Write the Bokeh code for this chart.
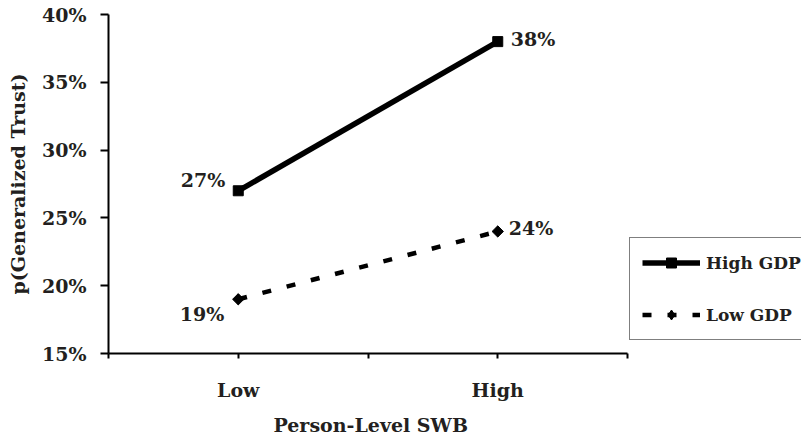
import math
from bokeh.plotting import figure
from bokeh.models import Range1d, FixedTicker, PrintfTickFormatter, Legend, LegendItem, Title
from bokeh.core.properties import value
from bokeh.embed import file_html
from bokeh.resources import INLINE

categories = ["Low", "High"]
series_names = ["High GDP", "Low GDP"]
high_gdp = [27, 38]
low_gdp = [19, 24]
y_ticks = [15, 20, 25, 30, 35, 40]
x_title = "Person-Level SWB"
y_title = "p(Generalized Trust)"

FONT = "DejaVu Serif"
TXT = "#231f20"
FS = "19px"

xs = [i + 0.5 for i in range(len(categories))]
n = len(categories)

p = figure(frame_width=693, frame_height=339, min_border_left=108, min_border_right=0,
           min_border_top=14, min_border_bottom=92, output_backend="svg",
           toolbar_location=None, x_range=Range1d(0, 693 / 259.5), y_range=Range1d(15, 40))
p.outline_line_color = None
p.xgrid.visible = False
p.ygrid.visible = False
p.background_fill_color = "white"

# axes
p.xaxis.bounds = (0, n)
p.xaxis.ticker = FixedTicker(ticks=xs, minor_ticks=list(range(n + 1)))
p.xaxis.major_label_overrides = {x: c for x, c in zip(xs, categories)}
p.yaxis.ticker = FixedTicker(ticks=y_ticks, minor_ticks=[])
p.yaxis.formatter = PrintfTickFormatter(format="%d%%")
for ax in (p.xaxis[0], p.yaxis[0]):
    ax.axis_line_width = 2
    ax.axis_line_color = "black"
    ax.major_tick_line_width = 2
    ax.major_tick_line_color = "black"
    ax.minor_tick_line_width = 2
    ax.minor_tick_line_color = "black"
    ax.major_tick_in = 0
    ax.minor_tick_in = 0
    ax.major_label_text_font = FONT
    ax.major_label_text_font_style = "bold"
    ax.major_label_text_font_size = FS
    ax.major_label_text_color = TXT
    ax.axis_label_text_font = FONT
    ax.axis_label_text_font_style = "bold"
    ax.axis_label_text_font_size = FS
    ax.axis_label_text_color = TXT
p.xaxis.major_tick_out = 5
p.xaxis.minor_tick_out = 5
p.yaxis.major_tick_out = 8
p.yaxis.major_label_standoff = 14
p.xaxis.major_label_standoff = 20
p.yaxis.axis_label = y_title
p.yaxis.axis_label_standoff = 10

# x-axis title centred under the category span (axis spans 108..627 px)
p.add_layout(Title(text=x_title, align="left", offset=165, standoff=17,
                   text_font=FONT, text_font_style="bold", text_font_size=FS,
                   text_color=TXT), "below")

# series
l1 = p.line(xs, high_gdp, line_color="black", line_width=5.5)
m1 = p.scatter(xs, high_gdp, marker="square", size=10, fill_color="black", line_color="black")
l2 = p.line(xs, low_gdp, line_color="black", line_width=4.5, line_dash="9 16")
p.scatter(xs, low_gdp, marker="square", size=8, angle=math.pi / 4,
          fill_color="black", line_color="black")
m2 = p.scatter(xs, low_gdp, marker="diamond", size=10, fill_color="black", line_color="black")

# data labels
def add_labels(vals, aligns, xo, yo):
    p.text(xs, vals, text=[f"{v}%" for v in vals], text_align=aligns, text_baseline="middle",
           x_offset=xo, y_offset=yo, text_font=value(FONT), text_font_style="bold",
           text_font_size=FS, text_color=TXT)

add_labels(high_gdp, ["right", "left"], [-13, 13], [-11, -3])
add_labels(low_gdp, ["right", "left"], [-14, 11], [15, -3])

legend = Legend(items=[LegendItem(label=series_names[0], renderers=[l1, m1]),
                       LegendItem(label=series_names[1], renderers=[l2, m2])],
                location=(521, 13), orientation="vertical")
legend.padding = 12
legend.spacing = 27
legend.glyph_width = 58
legend.glyph_height = 25
legend.label_height = 25
legend.label_standoff = 6
legend.margin = 0
legend.border_line_color = "black"
legend.border_line_width = 1.5
legend.background_fill_alpha = 1
legend.label_text_font = FONT
legend.label_text_font_style = "bold"
legend.label_text_font_size = "17px"
legend.label_text_color = TXT
legend.label_text_baseline = "middle"
p.add_layout(legend, "center")

open("out.html", "w").write(file_html(p, INLINE))
